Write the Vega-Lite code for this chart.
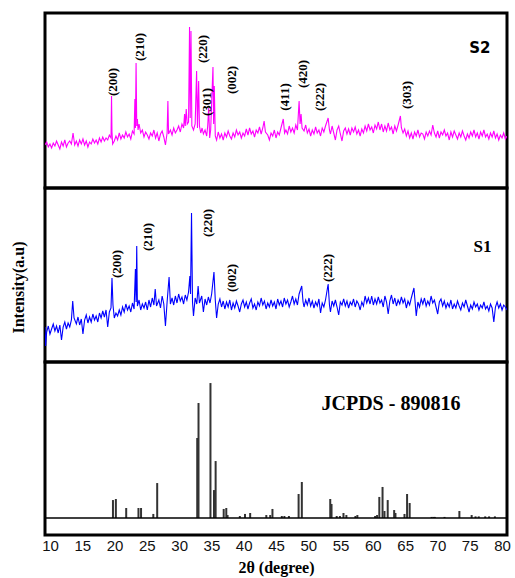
{
"$schema": "https://vega.github.io/schema/vega-lite/v6.json",
"padding": {"left": 8, "top": 11, "right": 0, "bottom": 2},
"spacing": 0,
"bounds": "flush",
"config": {"view": {"stroke": "black", "strokeWidth": 3}, "axis": {"grid": false, "domain": false, "ticks": false, "labelOverlap": false}},
"datasets": {
"s2": [
{"deg":10,"cps":43},{"deg":10.25,"cps":46},{"deg":10.5,"cps":41},{"deg":10.75,"cps":44},{"deg":11,"cps":40},{"deg":11.25,"cps":45},{"deg":11.5,"cps":42},{"deg":11.75,"cps":47},{"deg":12,"cps":43},{"deg":12.25,"cps":39},{"deg":12.5,"cps":46},{"deg":12.75,"cps":42},{"deg":13,"cps":48},{"deg":13.25,"cps":41},{"deg":13.5,"cps":45},{"deg":13.75,"cps":47},{"deg":14,"cps":44},{"deg":14.25,"cps":55},{"deg":14.5,"cps":43},{"deg":14.75,"cps":47},
{"deg":15,"cps":42},{"deg":15.25,"cps":48},{"deg":15.5,"cps":44},{"deg":15.75,"cps":49},{"deg":16,"cps":43},{"deg":16.25,"cps":47},{"deg":16.5,"cps":41},{"deg":16.75,"cps":46},{"deg":17,"cps":44},{"deg":17.25,"cps":49},{"deg":17.5,"cps":45},{"deg":17.75,"cps":48},{"deg":18,"cps":44},{"deg":18.25,"cps":50},{"deg":18.5,"cps":46},{"deg":18.75,"cps":51},{"deg":19,"cps":47},{"deg":19.25,"cps":50},{"deg":19.5,"cps":48},{"deg":19.75,"cps":53},
{"deg":20,"cps":50},{"deg":20.08,"cps":92},{"deg":20.15,"cps":56},{"deg":20.25,"cps":44},{"deg":20.5,"cps":47},{"deg":20.75,"cps":52},{"deg":21,"cps":48},{"deg":21.25,"cps":55},{"deg":21.5,"cps":49},{"deg":21.75,"cps":53},{"deg":22,"cps":50},{"deg":22.25,"cps":56},{"deg":22.5,"cps":51},{"deg":22.75,"cps":54},{"deg":23,"cps":49},{"deg":23.25,"cps":57},{"deg":23.5,"cps":54},{"deg":23.62,"cps":89},{"deg":23.7,"cps":60},{"deg":23.8,"cps":125},{"deg":23.9,"cps":62},{"deg":24,"cps":69},{"deg":24.1,"cps":58},{"deg":24.25,"cps":64},{"deg":24.5,"cps":55},{"deg":24.75,"cps":58},
{"deg":25,"cps":51},{"deg":25.25,"cps":56},{"deg":25.5,"cps":53},{"deg":25.75,"cps":49},{"deg":26,"cps":55},{"deg":26.25,"cps":52},{"deg":26.5,"cps":58},{"deg":26.75,"cps":50},{"deg":27,"cps":55},{"deg":27.25,"cps":47},{"deg":27.5,"cps":54},{"deg":27.75,"cps":57},{"deg":28,"cps":51},{"deg":28.25,"cps":43},{"deg":28.5,"cps":55},{"deg":28.62,"cps":87},{"deg":28.72,"cps":54},{"deg":29,"cps":58},{"deg":29.25,"cps":53},{"deg":29.5,"cps":60},{"deg":29.75,"cps":55},
{"deg":30,"cps":58},{"deg":30.25,"cps":62},{"deg":30.5,"cps":56},{"deg":30.75,"cps":64},{"deg":31,"cps":60},{"deg":31.15,"cps":74},{"deg":31.25,"cps":62},{"deg":31.4,"cps":79},{"deg":31.55,"cps":64},{"deg":31.75,"cps":66},{"deg":31.9,"cps":161},{"deg":32,"cps":70},{"deg":32.12,"cps":157},{"deg":32.25,"cps":62},{"deg":32.5,"cps":58},{"deg":32.75,"cps":64},{"deg":32.97,"cps":117},{"deg":33.1,"cps":60},{"deg":33.28,"cps":107},{"deg":33.4,"cps":62},{"deg":33.6,"cps":55},{"deg":33.8,"cps":60},{"deg":34,"cps":54},{"deg":34.25,"cps":58},{"deg":34.5,"cps":52},{"deg":34.65,"cps":62},{"deg":34.8,"cps":80},{"deg":34.95,"cps":50},
{"deg":35.1,"cps":58},{"deg":35.45,"cps":121},{"deg":35.55,"cps":64},{"deg":35.65,"cps":102},{"deg":35.8,"cps":52},{"deg":36,"cps":48},{"deg":36.25,"cps":56},{"deg":36.5,"cps":50},{"deg":36.75,"cps":54},{"deg":37,"cps":48},{"deg":37.25,"cps":55},{"deg":37.5,"cps":51},{"deg":37.75,"cps":57},{"deg":38,"cps":52},{"deg":38.25,"cps":49},{"deg":38.5,"cps":55},{"deg":38.75,"cps":51},{"deg":39,"cps":58},{"deg":39.25,"cps":53},{"deg":39.5,"cps":56},{"deg":39.75,"cps":50},
{"deg":40,"cps":55},{"deg":40.25,"cps":52},{"deg":40.5,"cps":59},{"deg":40.75,"cps":53},{"deg":41,"cps":60},{"deg":41.25,"cps":54},{"deg":41.5,"cps":57},{"deg":41.75,"cps":51},{"deg":42,"cps":58},{"deg":42.25,"cps":55},{"deg":42.5,"cps":61},{"deg":42.75,"cps":54},{"deg":43,"cps":60},{"deg":43.2,"cps":67},{"deg":43.4,"cps":56},{"deg":43.75,"cps":53},{"deg":44,"cps":48},{"deg":44.25,"cps":55},{"deg":44.5,"cps":52},{"deg":44.75,"cps":58},
{"deg":45,"cps":50},{"deg":45.25,"cps":56},{"deg":45.5,"cps":53},{"deg":45.75,"cps":60},{"deg":46.1,"cps":69},{"deg":46.3,"cps":55},{"deg":46.5,"cps":58},{"deg":46.75,"cps":54},{"deg":47,"cps":62},{"deg":47.25,"cps":56},{"deg":47.5,"cps":60},{"deg":47.75,"cps":55},{"deg":48,"cps":63},{"deg":48.25,"cps":58},{"deg":48.5,"cps":87},{"deg":48.65,"cps":64},{"deg":48.8,"cps":74},{"deg":48.95,"cps":60},{"deg":49.25,"cps":57},{"deg":49.5,"cps":63},{"deg":49.75,"cps":55},
{"deg":50,"cps":59},{"deg":50.25,"cps":52},{"deg":50.5,"cps":58},{"deg":50.75,"cps":54},{"deg":51,"cps":61},{"deg":51.25,"cps":55},{"deg":51.5,"cps":58},{"deg":51.75,"cps":52},{"deg":52,"cps":60},{"deg":52.25,"cps":56},{"deg":52.5,"cps":62},{"deg":52.9,"cps":70},{"deg":53.1,"cps":58},{"deg":53.25,"cps":54},{"deg":53.5,"cps":62},{"deg":53.75,"cps":55},{"deg":54,"cps":48},{"deg":54.25,"cps":58},{"deg":54.5,"cps":62},{"deg":54.75,"cps":54},
{"deg":55,"cps":47},{"deg":55.25,"cps":57},{"deg":55.5,"cps":60},{"deg":55.75,"cps":54},{"deg":56,"cps":59},{"deg":56.25,"cps":53},{"deg":56.5,"cps":60},{"deg":56.75,"cps":56},{"deg":57,"cps":61},{"deg":57.25,"cps":54},{"deg":57.5,"cps":58},{"deg":57.75,"cps":52},{"deg":58,"cps":59},{"deg":58.25,"cps":55},{"deg":58.5,"cps":62},{"deg":58.75,"cps":57},{"deg":59,"cps":64},{"deg":59.25,"cps":58},{"deg":59.5,"cps":61},{"deg":59.75,"cps":55},
{"deg":60,"cps":63},{"deg":60.25,"cps":59},{"deg":60.5,"cps":66},{"deg":60.75,"cps":58},{"deg":61,"cps":64},{"deg":61.25,"cps":56},{"deg":61.5,"cps":62},{"deg":61.75,"cps":57},{"deg":62,"cps":65},{"deg":62.25,"cps":58},{"deg":62.5,"cps":61},{"deg":62.75,"cps":54},{"deg":63,"cps":62},{"deg":63.25,"cps":57},{"deg":63.5,"cps":63},{"deg":63.85,"cps":72},{"deg":64,"cps":60},{"deg":64.25,"cps":55},{"deg":64.5,"cps":59},{"deg":64.75,"cps":52},
{"deg":65,"cps":57},{"deg":65.25,"cps":50},{"deg":65.5,"cps":55},{"deg":65.75,"cps":49},{"deg":66,"cps":56},{"deg":66.25,"cps":52},{"deg":66.5,"cps":58},{"deg":66.75,"cps":51},{"deg":67,"cps":55},{"deg":67.25,"cps":54},{"deg":67.5,"cps":49},{"deg":67.75,"cps":56},{"deg":68,"cps":52},{"deg":68.25,"cps":57},{"deg":68.5,"cps":53},{"deg":68.75,"cps":63},{"deg":69,"cps":55},{"deg":69.25,"cps":51},{"deg":69.5,"cps":57},{"deg":69.75,"cps":50},
{"deg":70,"cps":56},{"deg":70.25,"cps":53},{"deg":70.5,"cps":58},{"deg":70.75,"cps":52},{"deg":71,"cps":55},{"deg":71.25,"cps":48},{"deg":71.5,"cps":56},{"deg":71.75,"cps":51},{"deg":72,"cps":57},{"deg":72.25,"cps":53},{"deg":72.5,"cps":49},{"deg":72.75,"cps":55},{"deg":73,"cps":51},{"deg":73.25,"cps":57},{"deg":73.5,"cps":52},{"deg":73.75,"cps":48},{"deg":74,"cps":54},{"deg":74.25,"cps":50},{"deg":74.5,"cps":56},{"deg":74.75,"cps":52},
{"deg":75,"cps":58},{"deg":75.25,"cps":51},{"deg":75.5,"cps":55},{"deg":75.75,"cps":49},{"deg":76,"cps":56},{"deg":76.25,"cps":52},{"deg":76.5,"cps":58},{"deg":76.75,"cps":51},{"deg":77,"cps":54},{"deg":77.25,"cps":49},{"deg":77.5,"cps":55},{"deg":77.75,"cps":51},{"deg":78,"cps":57},{"deg":78.25,"cps":50},{"deg":78.5,"cps":54},{"deg":78.75,"cps":48},{"deg":79,"cps":53},{"deg":79.25,"cps":50},{"deg":79.5,"cps":55},{"deg":79.75,"cps":49},{"deg":80,"cps":52}
],
"s1": [
{"deg":10,"cps":35},{"deg":10.1,"cps":16},{"deg":10.25,"cps":30},{"deg":10.5,"cps":36},{"deg":10.75,"cps":28},{"deg":11,"cps":33},{"deg":11.25,"cps":38},{"deg":11.5,"cps":31},{"deg":11.75,"cps":36},{"deg":12,"cps":29},{"deg":12.25,"cps":37},{"deg":12.5,"cps":22},{"deg":12.75,"cps":35},{"deg":13,"cps":40},{"deg":13.25,"cps":33},{"deg":13.5,"cps":39},{"deg":13.75,"cps":35},{"deg":14,"cps":42},{"deg":14.2,"cps":61},{"deg":14.4,"cps":44},{"deg":14.75,"cps":38},
{"deg":15,"cps":45},{"deg":15.25,"cps":37},{"deg":15.5,"cps":43},{"deg":15.75,"cps":28},{"deg":16,"cps":42},{"deg":16.25,"cps":47},{"deg":16.5,"cps":39},{"deg":16.75,"cps":45},{"deg":17,"cps":40},{"deg":17.25,"cps":48},{"deg":17.5,"cps":42},{"deg":17.75,"cps":46},{"deg":18,"cps":40},{"deg":18.25,"cps":49},{"deg":18.5,"cps":44},{"deg":18.75,"cps":51},{"deg":19,"cps":45},{"deg":19.25,"cps":52},{"deg":19.5,"cps":35},{"deg":19.75,"cps":50},
{"deg":20,"cps":54},{"deg":20.15,"cps":84},{"deg":20.3,"cps":57},{"deg":20.5,"cps":44},{"deg":20.75,"cps":49},{"deg":21,"cps":46},{"deg":21.25,"cps":52},{"deg":21.5,"cps":47},{"deg":21.75,"cps":55},{"deg":22,"cps":50},{"deg":22.25,"cps":58},{"deg":22.5,"cps":52},{"deg":22.75,"cps":56},{"deg":23,"cps":50},{"deg":23.25,"cps":59},{"deg":23.5,"cps":53},{"deg":23.7,"cps":93},{"deg":23.8,"cps":60},{"deg":23.9,"cps":116},{"deg":24,"cps":56},{"deg":24.25,"cps":62},{"deg":24.5,"cps":52},{"deg":24.75,"cps":58},
{"deg":25,"cps":54},{"deg":25.25,"cps":60},{"deg":25.5,"cps":52},{"deg":25.75,"cps":62},{"deg":26,"cps":55},{"deg":26.25,"cps":64},{"deg":26.5,"cps":57},{"deg":26.7,"cps":73},{"deg":26.9,"cps":56},{"deg":27.25,"cps":62},{"deg":27.5,"cps":54},{"deg":27.75,"cps":66},{"deg":28,"cps":58},{"deg":28.25,"cps":36},{"deg":28.5,"cps":60},{"deg":28.8,"cps":85},{"deg":29,"cps":58},{"deg":29.25,"cps":64},{"deg":29.5,"cps":57},{"deg":29.75,"cps":66},
{"deg":30,"cps":59},{"deg":30.25,"cps":68},{"deg":30.5,"cps":61},{"deg":30.75,"cps":65},{"deg":31,"cps":58},{"deg":31.25,"cps":67},{"deg":31.5,"cps":62},{"deg":31.75,"cps":70},{"deg":31.95,"cps":86},{"deg":32.05,"cps":68},{"deg":32.2,"cps":149},{"deg":32.35,"cps":60},{"deg":32.5,"cps":46},{"deg":32.75,"cps":64},{"deg":33,"cps":58},{"deg":33.2,"cps":76},{"deg":33.4,"cps":59},{"deg":33.75,"cps":66},{"deg":34,"cps":50},{"deg":34.25,"cps":63},{"deg":34.5,"cps":57},{"deg":34.75,"cps":65},
{"deg":35,"cps":59},{"deg":35.25,"cps":68},{"deg":35.6,"cps":90},{"deg":35.8,"cps":62},{"deg":36,"cps":44},{"deg":36.25,"cps":58},{"deg":36.5,"cps":63},{"deg":36.75,"cps":55},{"deg":37,"cps":61},{"deg":37.25,"cps":53},{"deg":37.5,"cps":60},{"deg":37.75,"cps":55},{"deg":38,"cps":62},{"deg":38.25,"cps":52},{"deg":38.5,"cps":59},{"deg":38.75,"cps":54},{"deg":39,"cps":61},{"deg":39.25,"cps":56},{"deg":39.5,"cps":50},{"deg":39.75,"cps":58},
{"deg":40,"cps":62},{"deg":40.25,"cps":55},{"deg":40.5,"cps":60},{"deg":40.75,"cps":53},{"deg":41,"cps":59},{"deg":41.25,"cps":63},{"deg":41.5,"cps":54},{"deg":41.75,"cps":58},{"deg":42,"cps":52},{"deg":42.25,"cps":60},{"deg":42.5,"cps":56},{"deg":42.75,"cps":64},{"deg":43,"cps":57},{"deg":43.25,"cps":61},{"deg":43.5,"cps":53},{"deg":43.75,"cps":59},{"deg":44,"cps":55},{"deg":44.25,"cps":62},{"deg":44.5,"cps":56},{"deg":44.75,"cps":60},
{"deg":45,"cps":53},{"deg":45.25,"cps":63},{"deg":45.5,"cps":57},{"deg":45.75,"cps":61},{"deg":46,"cps":55},{"deg":46.25,"cps":64},{"deg":46.5,"cps":58},{"deg":46.75,"cps":62},{"deg":47,"cps":55},{"deg":47.25,"cps":60},{"deg":47.5,"cps":66},{"deg":47.75,"cps":58},{"deg":48,"cps":63},{"deg":48.25,"cps":57},{"deg":48.5,"cps":68},{"deg":48.9,"cps":76},{"deg":49.1,"cps":60},{"deg":49.25,"cps":55},{"deg":49.5,"cps":62},{"deg":49.75,"cps":57},
{"deg":50,"cps":64},{"deg":50.25,"cps":56},{"deg":50.5,"cps":61},{"deg":50.75,"cps":54},{"deg":51,"cps":60},{"deg":51.25,"cps":56},{"deg":51.5,"cps":63},{"deg":51.75,"cps":49},{"deg":52,"cps":59},{"deg":52.25,"cps":55},{"deg":52.5,"cps":62},{"deg":52.9,"cps":78},{"deg":53.1,"cps":57},{"deg":53.25,"cps":50},{"deg":53.5,"cps":61},{"deg":53.75,"cps":56},{"deg":54,"cps":62},{"deg":54.25,"cps":55},{"deg":54.5,"cps":47},{"deg":54.75,"cps":60},
{"deg":55,"cps":57},{"deg":55.25,"cps":63},{"deg":55.5,"cps":56},{"deg":55.75,"cps":61},{"deg":56,"cps":54},{"deg":56.25,"cps":60},{"deg":56.5,"cps":57},{"deg":56.75,"cps":63},{"deg":57,"cps":55},{"deg":57.25,"cps":61},{"deg":57.5,"cps":58},{"deg":57.75,"cps":52},{"deg":58,"cps":60},{"deg":58.25,"cps":56},{"deg":58.5,"cps":66},{"deg":58.75,"cps":59},{"deg":59,"cps":64},{"deg":59.25,"cps":58},{"deg":59.5,"cps":66},{"deg":59.75,"cps":57},
{"deg":60,"cps":63},{"deg":60.25,"cps":58},{"deg":60.5,"cps":65},{"deg":60.75,"cps":59},{"deg":61,"cps":62},{"deg":61.25,"cps":55},{"deg":61.5,"cps":66},{"deg":61.75,"cps":60},{"deg":62,"cps":48},{"deg":62.25,"cps":61},{"deg":62.5,"cps":67},{"deg":62.75,"cps":58},{"deg":63,"cps":64},{"deg":63.25,"cps":56},{"deg":63.5,"cps":62},{"deg":63.75,"cps":58},{"deg":64,"cps":65},{"deg":64.25,"cps":59},{"deg":64.5,"cps":63},{"deg":64.75,"cps":54},
{"deg":65,"cps":61},{"deg":65.25,"cps":57},{"deg":65.5,"cps":64},{"deg":65.9,"cps":74},{"deg":66.1,"cps":58},{"deg":66.25,"cps":46},{"deg":66.5,"cps":60},{"deg":66.75,"cps":55},{"deg":67,"cps":63},{"deg":67.25,"cps":58},{"deg":67.5,"cps":64},{"deg":67.75,"cps":56},{"deg":68,"cps":61},{"deg":68.25,"cps":57},{"deg":68.5,"cps":66},{"deg":68.75,"cps":59},{"deg":69,"cps":62},{"deg":69.25,"cps":55},{"deg":69.5,"cps":48},{"deg":69.75,"cps":60},
{"deg":70,"cps":63},{"deg":70.25,"cps":56},{"deg":70.5,"cps":61},{"deg":70.75,"cps":54},{"deg":71,"cps":59},{"deg":71.25,"cps":55},{"deg":71.5,"cps":62},{"deg":71.75,"cps":53},{"deg":72,"cps":58},{"deg":72.25,"cps":54},{"deg":72.5,"cps":61},{"deg":72.75,"cps":56},{"deg":73,"cps":52},{"deg":73.25,"cps":59},{"deg":73.5,"cps":55},{"deg":73.75,"cps":62},{"deg":74,"cps":56},{"deg":74.25,"cps":50},{"deg":74.5,"cps":57},{"deg":74.75,"cps":53},
{"deg":75,"cps":60},{"deg":75.25,"cps":55},{"deg":75.5,"cps":58},{"deg":75.75,"cps":52},{"deg":76,"cps":57},{"deg":76.25,"cps":54},{"deg":76.5,"cps":60},{"deg":76.75,"cps":53},{"deg":77,"cps":56},{"deg":77.25,"cps":51},{"deg":77.5,"cps":58},{"deg":77.75,"cps":54},{"deg":78,"cps":40},{"deg":78.25,"cps":55},{"deg":78.5,"cps":60},{"deg":78.75,"cps":54},{"deg":79,"cps":58},{"deg":79.25,"cps":52},{"deg":79.5,"cps":57},{"deg":79.75,"cps":55},{"deg":80,"cps":52}
],
"jcpds": [
{"deg":19.75,"rel":13.3},{"deg":20.2,"rel":14.1},{"deg":21.8,"rel":7.4},{"deg":23.7,"rel":7.4},{"deg":24.1,"rel":7.4},{"deg":26.0,"rel":3.0},{"deg":26.6,"rel":25.9},{"deg":32.8,"rel":59.3},{"deg":33.0,"rel":85.2},{"deg":34.85,"rel":100},{"deg":35.4,"rel":20.7},{"deg":35.65,"rel":42.2},{"deg":36.9,"rel":6.7},{"deg":37.3,"rel":7.4},{"deg":37.5,"rel":2.2},{"deg":39.4,"rel":1.5},{"deg":40.2,"rel":3.0},{"deg":41.0,"rel":3.7},{"deg":43.5,"rel":2.2},{"deg":44.1,"rel":2.2},{"deg":44.45,"rel":6.7},{"deg":45.9,"rel":1.5},{"deg":46.3,"rel":1.5},{"deg":47.0,"rel":1.5},{"deg":48.5,"rel":17.8},{"deg":49.0,"rel":26.7},{"deg":53.4,"rel":14.1},{"deg":53.6,"rel":10.4},{"deg":54.4,"rel":1.5},{"deg":54.9,"rel":1.5},{"deg":55.45,"rel":3.7},{"deg":55.9,"rel":2.2},{"deg":57.3,"rel":1.5},{"deg":57.6,"rel":2.2},{"deg":60.35,"rel":1.5},{"deg":60.65,"rel":2.2},{"deg":61.0,"rel":15.6},{"deg":61.5,"rel":23.0},{"deg":61.8,"rel":5.2},{"deg":62.3,"rel":13.3},{"deg":63.3,"rel":5.9},{"deg":63.5,"rel":3.7},{"deg":64.9,"rel":3.0},{"deg":65.3,"rel":17.8},{"deg":65.7,"rel":11.1},{"deg":69.1,"rel":0.8},{"deg":69.4,"rel":0.8},{"deg":69.6,"rel":0.8},{"deg":71.1,"rel":0.8},{"deg":73.4,"rel":5.2},{"deg":75.3,"rel":2.2},{"deg":75.9,"rel":1.2},{"deg":76.4,"rel":1.2},{"deg":77.4,"rel":1.2},{"deg":78.0,"rel":1.2},{"deg":78.9,"rel":1.2}
],
"base": [{"rel": 0}],
"s2hkl": [
{"deg":20.3,"cps":106,"hkl":"(200)"},{"deg":24.4,"cps":141,"hkl":"(210)"},{"deg":34.0,"cps":139,"hkl":"(220)"},{"deg":34.55,"cps":86,"hkl":"(301)"},{"deg":38.3,"cps":108,"hkl":"(002)"},{"deg":46.4,"cps":91,"hkl":"(411)"},{"deg":49.1,"cps":114,"hkl":"(420)"},{"deg":51.7,"cps":91,"hkl":"(222)"},{"deg":64.8,"cps":93,"hkl":"(303)"}
],
"s1hkl": [
{"deg":20.9,"cps":98,"hkl":"(200)"},{"deg":25.65,"cps":125,"hkl":"(210)"},{"deg":34.75,"cps":139,"hkl":"(220)"},{"deg":38.3,"cps":84,"hkl":"(002)"},{"deg":52.9,"cps":94,"hkl":"(222)"}
]
},
"vconcat": [
{
"width": 462, "height": 175,
"layer": [
{"data": {"name": "s2"}, "mark": {"type": "line", "color": "#FF00FF", "strokeWidth": 1.1, "clip": true},
 "encoding": {"x": {"field": "deg", "type": "quantitative", "scale": {"domain": [10, 80], "nice": false, "zero": false}, "axis": null},
  "y": {"field": "cps", "type": "quantitative", "scale": {"domain": [0, 175], "nice": false, "zero": false}, "axis": null}}},
{"data": {"name": "s2hkl"}, "mark": {"type": "text", "angle": 270, "font": "Liberation Serif", "fontWeight": "bold", "fontSize": 13, "color": "black"},
 "encoding": {"x": {"field": "deg", "type": "quantitative"}, "y": {"field": "cps", "type": "quantitative"}, "text": {"field": "hkl"}}},
{"data": {"values": [{"deg": 75.9, "cps": 140, "name": "S2"}]}, "mark": {"type": "text", "font": "DejaVu Sans", "fontWeight": "bold", "fontSize": 15, "color": "black"},
 "encoding": {"x": {"field": "deg", "type": "quantitative"}, "y": {"field": "cps", "type": "quantitative"}, "text": {"field": "name"}}}
]
},
{
"width": 462, "height": 174,
"layer": [
{"data": {"name": "s1"}, "mark": {"type": "line", "color": "#0000FF", "strokeWidth": 1.1, "clip": true},
 "encoding": {"x": {"field": "deg", "type": "quantitative", "scale": {"domain": [10, 80], "nice": false, "zero": false}, "axis": null},
  "y": {"field": "cps", "type": "quantitative", "scale": {"domain": [0, 174], "nice": false, "zero": false},
   "axis": {"title": "Intensity(a.u)", "labels": false, "ticks": false, "domain": false, "titleFont": "Liberation Serif", "titleFontWeight": "bold", "titleFontSize": 16, "titleColor": "black", "titlePadding": 19, "titleY": 99}}}},
{"data": {"name": "s1hkl"}, "mark": {"type": "text", "angle": 270, "font": "Liberation Serif", "fontWeight": "bold", "fontSize": 13, "color": "black"},
 "encoding": {"x": {"field": "deg", "type": "quantitative"}, "y": {"field": "cps", "type": "quantitative"}, "text": {"field": "hkl"}}},
{"data": {"values": [{"deg": 76.3, "cps": 115, "name": "S1"}]}, "mark": {"type": "text", "font": "Liberation Serif", "fontWeight": "bold", "fontSize": 17, "color": "black"},
 "encoding": {"x": {"field": "deg", "type": "quantitative"}, "y": {"field": "cps", "type": "quantitative"}, "text": {"field": "name"}}}
]
},
{
"width": 462, "height": 173,
"encoding": {"x": {"field": "deg", "type": "quantitative", "scale": {"domain": [10, 80], "nice": false, "zero": false},
   "axis": {"values": [10,15,20,25,30,35,40,45,50,55,60,65,70,75,80], "tickCount": 15, "labelOverlap": false, "labelBound": false, "title": "2θ (degree)", "labelFont": "Liberation Sans", "labelFontSize": 15, "labelColor": "#111111", "labelPadding": 3, "labelFlush": false, "titleFont": "Liberation Serif", "titleFontSize": 16, "titleFontWeight": "bold", "titleColor": "black", "titlePadding": 6}}},
"layer": [
{"data": {"name": "jcpds"}, "mark": {"type": "bar", "color": "#333333", "size": 2},
 "encoding": {"y": {"field": "rel", "type": "quantitative", "scale": {"domain": [-12.6, 115.6], "nice": false, "zero": false}, "axis": null}}},
{"data": {"name": "base"}, "mark": {"type": "rule", "color": "black", "strokeWidth": 1.5},
 "encoding": {"x": null, "y": {"field": "rel", "type": "quantitative"}}},
{"data": {"values": [{"deg": 62.8, "rel": 84.4, "name": "JCPDS - 890816"}]}, "mark": {"type": "text", "font": "Liberation Serif", "fontWeight": "bold", "fontSize": 20, "color": "black"},
 "encoding": {"y": {"field": "rel", "type": "quantitative"}, "text": {"field": "name"}}}
]
}
]
}
